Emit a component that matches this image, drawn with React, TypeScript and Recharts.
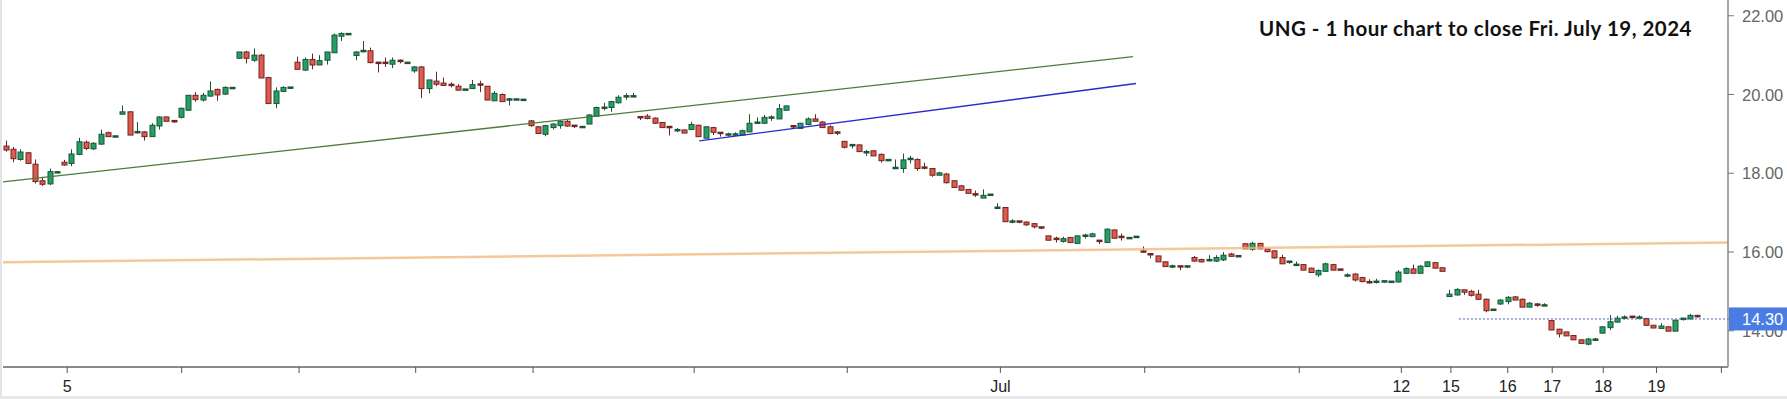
import { ComposedChart, Bar, XAxis, YAxis, ReferenceLine } from 'recharts';

// hourly candles (oldest first)
const opens = [
  18.69, 18.61, 18.35, 18.52, 18.23, 17.81, 17.73, 18.03, 18.28, 18.25,
  18.48, 18.79, 18.62, 18.74, 19.03, 18.94, 19.50, 19.56, 19.01, 19.05,
  18.93, 19.20, 19.43, 19.33, 19.42, 19.60, 19.98, 19.86, 19.96, 20.13,
  20.01, 20.16, 20.92, 21.08, 20.87, 21.00, 20.43, 19.77, 20.08, 20.17,
  20.82, 20.62, 20.89, 20.75, 20.87, 21.06, 21.48, 21.54, 20.99, 21.07,
  21.11, 20.81, 20.81, 20.77, 20.86, 20.81, 20.60, 20.70, 20.15, 20.34,
  20.29, 20.25, 20.21, 20.13, 20.15, 20.26, 20.21, 19.84, 20.00, 19.83,
  19.88, 19.87, 19.33, 19.18, 18.99, 19.16, 19.21, 19.32, 19.21, 19.18,
  19.25, 19.45, 19.64, 19.67, 19.79, 19.94, 19.95, 19.43, 19.45, 19.40,
  19.29, 19.18, 19.10, 19.10, 19.11, 19.22, 18.89, 19.16, 19.03, 18.99,
  18.99, 18.97, 19.05, 19.28, 19.27, 19.42, 19.38, 19.60, 19.20, 19.14,
  19.24, 19.38, 19.30, 19.18, 19.04, 18.81, 18.69, 18.72, 18.54, 18.57,
  18.48, 18.34, 18.13, 18.12, 18.36, 18.35, 18.15, 18.12, 17.95, 17.98,
  17.81, 17.68, 17.59, 17.47, 17.37, 17.42, 17.12, 17.13, 16.78, 16.78,
  16.76, 16.72, 16.63, 16.41, 16.34, 16.27, 16.37, 16.22, 16.39, 16.39,
  16.29, 16.24, 16.56, 16.39, 16.36, 16.39, 16.02, 15.95, 15.90, 15.75,
  15.59, 15.64, 15.59, 15.86, 15.81, 15.76, 15.77, 15.80, 15.95, 15.90,
  16.21, 16.07, 16.22, 16.08, 16.03, 15.86, 15.71, 15.67, 15.68, 15.59,
  15.42, 15.51, 15.68, 15.56, 15.36, 15.44, 15.35, 15.24, 15.20, 15.22,
  15.25, 15.24, 15.46, 15.57, 15.46, 15.63, 15.73, 15.60, 14.87, 14.91,
  15.04, 15.00, 14.93, 14.80, 14.54, 14.68, 14.74, 14.86, 14.80, 14.60,
  14.67, 14.63, 14.26, 14.04, 13.97, 13.88, 13.77, 13.66, 13.77, 13.94,
  14.08, 14.22, 14.34, 14.36, 14.33, 14.31, 14.14, 14.06, 14.10, 13.99,
  14.26, 14.30, 14.38,
];
const highs = [
  18.83, 18.67, 18.61, 18.54, 18.35, 17.91, 18.12, 18.04, 18.34, 18.61,
  18.90, 18.83, 18.79, 19.11, 19.06, 18.95, 19.72, 19.58, 19.30, 19.07,
  19.27, 19.45, 19.44, 19.33, 19.67, 19.98, 20.06, 20.04, 20.33, 20.15,
  20.21, 20.17, 21.08, 21.11, 21.17, 21.03, 20.45, 20.18, 20.21, 20.18,
  20.96, 20.94, 21.04, 21.00, 21.08, 21.55, 21.58, 21.55, 21.10, 21.36,
  21.19, 20.83, 20.94, 20.94, 20.89, 20.82, 20.72, 20.72, 20.37, 20.58,
  20.43, 20.31, 20.26, 20.14, 20.37, 20.35, 20.21, 20.09, 20.03, 19.91,
  19.89, 19.88, 19.35, 19.20, 19.23, 19.27, 19.35, 19.35, 19.22, 19.19,
  19.50, 19.69, 19.79, 19.84, 19.98, 20.03, 20.04, 19.43, 19.50, 19.42,
  19.30, 19.18, 19.15, 19.11, 19.31, 19.23, 19.19, 19.18, 19.03, 19.03,
  19.04, 19.11, 19.50, 19.42, 19.48, 19.47, 19.76, 19.72, 19.22, 19.28,
  19.42, 19.50, 19.33, 19.22, 19.07, 18.81, 18.72, 18.73, 18.59, 18.58,
  18.50, 18.35, 18.35, 18.50, 18.44, 18.38, 18.27, 18.13, 18.04, 18.01,
  17.82, 17.70, 17.60, 17.56, 17.59, 17.46, 17.24, 17.13, 16.83, 16.79,
  16.78, 16.74, 16.63, 16.41, 16.39, 16.39, 16.37, 16.41, 16.46, 16.49,
  16.29, 16.60, 16.57, 16.47, 16.37, 16.40, 16.14, 15.97, 15.91, 15.76,
  15.68, 15.65, 15.64, 15.90, 15.83, 15.92, 15.92, 16.00, 15.98, 15.91,
  16.22, 16.26, 16.23, 16.09, 16.04, 15.93, 15.77, 15.76, 15.69, 15.60,
  15.56, 15.73, 15.70, 15.56, 15.46, 15.46, 15.37, 15.31, 15.32, 15.26,
  15.26, 15.54, 15.61, 15.68, 15.67, 15.76, 15.74, 15.61, 15.04, 15.08,
  15.04, 15.04, 15.04, 14.82, 14.55, 14.80, 14.88, 14.88, 14.82, 14.73,
  14.71, 14.70, 14.27, 14.05, 13.98, 13.89, 13.78, 13.82, 13.82, 14.11,
  14.40, 14.38, 14.39, 14.38, 14.39, 14.32, 14.14, 14.19, 14.11, 14.28,
  14.31, 14.43, 14.38,
];
const lows = [
  18.55, 18.28, 18.32, 18.25, 17.74, 17.68, 17.70, 18.02, 18.19, 18.18,
  18.46, 18.59, 18.59, 18.72, 18.93, 18.93, 19.50, 18.97, 19.01, 18.83,
  18.93, 19.11, 19.32, 19.28, 19.39, 19.60, 19.82, 19.82, 19.94, 19.84,
  19.99, 20.15, 20.92, 20.79, 20.83, 20.42, 19.77, 19.65, 20.06, 20.16,
  20.64, 20.60, 20.64, 20.75, 20.76, 21.06, 21.36, 21.53, 20.87, 21.07,
  20.79, 20.56, 20.70, 20.67, 20.79, 20.80, 20.55, 19.91, 20.03, 20.21,
  20.23, 20.18, 20.11, 20.12, 20.14, 20.06, 19.86, 19.84, 19.82, 19.72,
  19.87, 19.86, 19.18, 19.01, 18.94, 19.11, 19.13, 19.18, 19.15, 19.17,
  19.25, 19.45, 19.60, 19.56, 19.77, 19.87, 19.95, 19.35, 19.37, 19.25,
  19.16, 18.96, 19.05, 19.02, 19.11, 18.93, 18.89, 18.97, 18.93, 18.93,
  18.94, 18.97, 19.05, 19.27, 19.27, 19.33, 19.38, 19.60, 19.15, 19.13,
  19.22, 19.32, 19.16, 18.99, 18.97, 18.63, 18.63, 18.54, 18.44, 18.44,
  18.27, 18.33, 18.12, 18.01, 18.25, 18.06, 18.10, 17.91, 17.95, 17.74,
  17.63, 17.56, 17.49, 17.40, 17.37, 17.42, 17.12, 16.77, 16.73, 16.73,
  16.66, 16.60, 16.58, 16.30, 16.24, 16.24, 16.24, 16.20, 16.34, 16.39,
  16.20, 16.24, 16.35, 16.29, 16.35, 16.38, 15.98, 15.84, 15.75, 15.63,
  15.59, 15.54, 15.59, 15.75, 15.73, 15.76, 15.75, 15.77, 15.89, 15.89,
  16.08, 16.03, 16.07, 15.99, 15.83, 15.70, 15.70, 15.66, 15.54, 15.48,
  15.37, 15.50, 15.54, 15.54, 15.36, 15.25, 15.23, 15.20, 15.20, 15.22,
  15.24, 15.22, 15.44, 15.46, 15.46, 15.62, 15.59, 15.51, 14.87, 14.89,
  14.91, 14.87, 14.78, 14.47, 14.53, 14.66, 14.67, 14.78, 14.60, 14.60,
  14.61, 14.63, 14.02, 13.83, 13.87, 13.77, 13.68, 13.63, 13.77, 13.93,
  14.02, 14.21, 14.29, 14.31, 14.31, 14.12, 14.07, 14.06, 13.99, 13.99,
  14.26, 14.29, 14.33,
];
const closes = [
  18.59, 18.37, 18.54, 18.25, 17.79, 17.72, 18.04, 18.03, 18.21, 18.49,
  18.80, 18.63, 18.76, 18.99, 18.93, 18.94, 19.56, 18.97, 19.05, 18.93,
  19.22, 19.43, 19.32, 19.28, 19.65, 19.98, 19.87, 19.98, 20.09, 19.99,
  20.18, 20.17, 21.08, 20.92, 21.00, 20.42, 19.77, 20.09, 20.18, 20.18,
  20.64, 20.89, 20.75, 20.86, 21.08, 21.51, 21.55, 21.54, 21.08, 21.11,
  20.81, 20.79, 20.77, 20.87, 20.81, 20.81, 20.70, 20.15, 20.37, 20.26,
  20.23, 20.22, 20.11, 20.13, 20.25, 20.23, 19.86, 20.03, 19.82, 19.88,
  19.88, 19.87, 19.21, 19.01, 19.21, 19.25, 19.32, 19.20, 19.16, 19.18,
  19.48, 19.67, 19.67, 19.82, 19.93, 19.96, 19.96, 19.41, 19.39, 19.27,
  19.16, 19.14, 19.10, 19.02, 19.24, 18.93, 19.18, 19.04, 18.98, 18.99,
  18.99, 19.08, 19.27, 19.29, 19.42, 19.42, 19.64, 19.71, 19.17, 19.27,
  19.38, 19.32, 19.16, 19.01, 18.99, 18.66, 18.72, 18.55, 18.54, 18.44,
  18.32, 18.34, 18.14, 18.34, 18.37, 18.12, 18.10, 17.95, 18.01, 17.76,
  17.64, 17.57, 17.49, 17.42, 17.44, 17.46, 17.13, 16.77, 16.78, 16.74,
  16.69, 16.64, 16.58, 16.30, 16.29, 16.34, 16.24, 16.41, 16.42, 16.46,
  16.24, 16.58, 16.35, 16.36, 16.36, 16.39, 15.98, 15.90, 15.75, 15.63,
  15.64, 15.59, 15.64, 15.77, 15.75, 15.80, 15.86, 15.92, 15.89, 15.90,
  16.08, 16.22, 16.08, 16.01, 15.85, 15.70, 15.76, 15.68, 15.54, 15.48,
  15.53, 15.70, 15.54, 15.54, 15.41, 15.29, 15.25, 15.20, 15.25, 15.26,
  15.25, 15.49, 15.58, 15.46, 15.64, 15.75, 15.59, 15.51, 14.93, 15.05,
  14.98, 14.90, 14.80, 14.51, 14.54, 14.78, 14.85, 14.78, 14.60, 14.70,
  14.63, 14.65, 14.02, 13.92, 13.87, 13.77, 13.68, 13.79, 13.78, 14.10,
  14.23, 14.32, 14.34, 14.31, 14.34, 14.14, 14.07, 14.12, 13.99, 14.27,
  14.31, 14.39, 14.33,
];

// x axis: candle slots, tick positions and their labels
const xTicks = [8.4, 24.1, 40.2, 56.2, 72.3, 94.4, 115.4, 136.4, 156.2, 177.4, 191.4, 198.2, 206.0, 212.1, 219.1, 226.4, 235.3];
const xTickLabels = ['5', '', '', '', '', '', '', 'Jul', '', '', '12', '15', '16', '17', '18', '19', ''];

const priceTicks = [14, 14.3, 16, 18, 20, 22];
const lastPrice = 14.3;
const lastPriceFrom = 199.3;

// hand-drawn trend lines, [start, end] as {x: slot, y: price}
const greenTrend = [{ x: -0.41, y: 17.78 }, { x: 154.6, y: 20.96 }];
const blueTrend = [{ x: 95.1, y: 18.82 }, { x: 155.0, y: 20.28 }];
const orangeTrend = [{ x: -0.41, y: 15.74 }, { x: 236.2, y: 16.24 }];

const candles = opens.map((o, i) => ({
  t: i,
  open: o,
  high: highs[i],
  low: lows[i],
  close: closes[i],
}));

const Candle = (props: any) => {
  const { x, y, width, height, payload } = props;
  if (x == null || y == null || !payload) return null;
  const { open, close, high, low } = payload;
  const cx = Math.round(x + width / 2) + 0.5;
  const ppu = high > low ? height / (high - low) : 0;
  const yO = y + (high - open) * ppu;
  const yC = y + (high - close) * ppu;
  const up = close >= open;
  const edge = up ? '#1d5438' : '#6e2620';
  const fill = up ? '#23a066' : '#e2594d';
  const top = Math.min(yO, yC);
  const bh = Math.abs(yC - yO);
  return (
    <g>
      <line x1={cx} x2={cx} y1={y} y2={y + height} stroke={edge} strokeWidth={1} />
      {bh < 2 ? (
        <rect x={cx - 3} y={top - 1} width={6} height={2.5} fill={edge} />
      ) : (
        <rect x={cx - 2.5} y={top} width={5} height={bh} fill={fill} stroke={edge} strokeWidth={1} />
      )}
    </g>
  );
};

const XTick = (props: any) => {
  const { x, y, payload } = props;
  const label = xTickLabels[xTicks.indexOf(payload.value)];
  if (!label) return null;
  return (
    <text x={x} y={y + 17} textAnchor="middle" fontSize={16} fill="#222" fontFamily="Liberation Sans, Arial, sans-serif">
      {label}
    </text>
  );
};

const YTick = (props: any) => {
  const { x, y, payload } = props;
  const v = payload.value;
  if (v === lastPrice) {
    return (
      <g>
        <rect x={x - 7} y={y - 11.5} width={66} height={23} fill="#4a7de3" />
        <text x={x + 6} y={y + 6} fontSize={16.5} fill="#fff" fontFamily="Liberation Sans, Arial, sans-serif">
          {v.toFixed(2)}
        </text>
      </g>
    );
  }
  return (
    <text x={x + 6} y={y + 6} fontSize={16.5} fill="#666" fontFamily="Liberation Sans, Arial, sans-serif">
      {v.toFixed(2)}
    </text>
  );
};

export default function App() {
  return (
    <div style={{ position: 'absolute', left: 0, top: 0, width: 1787, height: 399, background: '#fff' }}>
      <ComposedChart
        width={1787}
        height={399}
        data={candles}
        margin={{ top: 0, right: 0, bottom: 0, left: 3 }}
      >
        <XAxis
          dataKey="t"
          type="number"
          domain={[-0.41, 236.21]}
          allowDataOverflow
          ticks={xTicks}
          interval={0}
          height={32}
          tickSize={6}
          axisLine={{ stroke: '#8a8a8a', strokeWidth: 2 }}
          tickLine={{ stroke: '#555' }}
          tick={<XTick />}
        />
        <YAxis
          orientation="right"
          type="number"
          domain={[13.08, 22.4]}
          allowDataOverflow
          ticks={priceTicks}
          interval={0}
          width={59}
          tickSize={6}
          axisLine={{ stroke: '#8a8a8a', strokeWidth: 1.5 }}
          tickLine={{ stroke: '#777' }}
          tick={<YTick />}
        />
        <Bar
          dataKey={(d: any) => [d.low, d.high]}
          barSize={5}
          shape={<Candle />}
          isAnimationActive={false}
        />
        <ReferenceLine segment={orangeTrend} stroke="#f0b57a" strokeOpacity={0.75} strokeWidth={2.5} ifOverflow="visible" />
        <ReferenceLine segment={greenTrend} stroke="#4e7b3a" strokeWidth={1.3} ifOverflow="visible" />
        <ReferenceLine segment={blueTrend} stroke="#2a2acc" strokeWidth={1.3} ifOverflow="visible" />
        <ReferenceLine
          segment={[{ x: lastPriceFrom, y: lastPrice }, { x: 236.21, y: lastPrice }]}
          stroke="#4a66b0"
          strokeDasharray="2 2"
          strokeWidth={1}
          ifOverflow="visible"
        />
      </ComposedChart>
      <svg width={1787} height={399} style={{ position: 'absolute', left: 0, top: 0, pointerEvents: 'none' }}>
        <rect x={0} y={0} width={2} height={396} fill="#e1e2ea" />
        <rect x={0} y={396} width={1787} height={3} fill="#e8e8e8" />
        <text
          x={1692}
          y={36}
          textAnchor="end"
          fontSize={20.5}
          fontWeight={700}
          letterSpacing={0.5}
          fill="#111"
          fontFamily="Lato, sans-serif"
        >
          UNG - 1 hour chart to close Fri. July 19, 2024
        </text>
      </svg>
    </div>
  );
}
